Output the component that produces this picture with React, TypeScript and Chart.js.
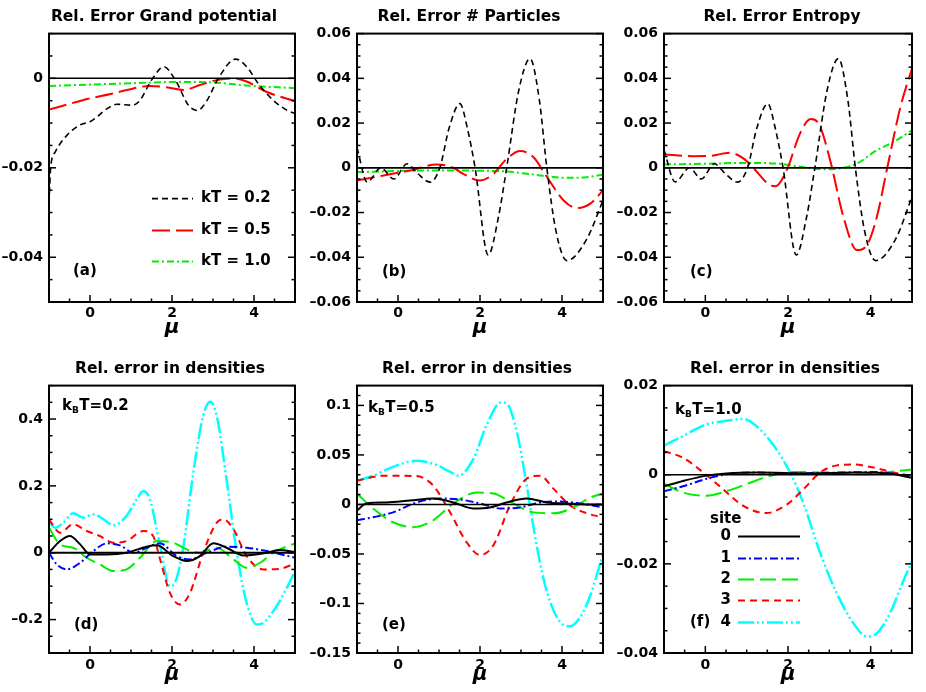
import React, { useEffect, useRef } from "react";
import { Chart, registerables } from "chart.js";

Chart.register(...registerables);

type Pt = [number, number];

// ---------------- shared axis data ----------------
const MU_MIN = -1;
const MU_MAX = 5;
const MU_TICK_LABELS = [0, 2, 4];
const ZERO_LINE: Pt[] = [[-1, 0], [5, 0]];

// ---------------- (a) Rel. Error Grand potential ----------------
const grandKT02: Pt[] = [[-1, -0.028], [-0.96, -0.02], [-0.85, -0.0165], [-0.57, -0.0128], [-0.24, -0.0104], [0, -0.0097], [0.45, -0.0066], [0.65, -0.0058], [1.05, -0.006], [1.22, -0.0049], [1.5, -0.0004], [1.8, 0.0026], [2.1, -0.0007], [2.4, -0.006], [2.62, -0.0072], [2.85, -0.005], [3.13, 0], [3.55, 0.0043], [3.82, 0.0026], [4.1, -0.0011], [4.47, -0.0049], [4.8, -0.0071], [5, -0.0079]];
const grandKT05: Pt[] = [[-1, -0.007], [-0.5, -0.0057], [0, -0.0045], [0.5, -0.0035], [0.9, -0.0026], [1.46, -0.0017], [1.87, -0.002], [2.28, -0.0026], [2.68, -0.0015], [3.09, -0.0004], [3.5, 0], [3.82, -0.0007], [4.3, -0.003], [5, -0.0051]];
const grandKT10: Pt[] = [[-1, -0.0017], [1, -0.0011], [2.2, -0.0008], [3, -0.0009], [3.8, -0.0016], [5, -0.0022]];

// ---------------- (b) Rel. Error # Particles ----------------
const partKT02: Pt[] = [[-1, 0.009], [-0.75, -0.0064], [-0.42, 0], [-0.1, -0.005], [0.22, 0.0018], [0.45, -0.002], [0.78, -0.0064], [1.02, 0], [1.25, 0.018], [1.51, 0.0287], [1.7, 0.017], [1.88, 0], [2.2, -0.039], [2.45, -0.022], [2.65, 0], [2.95, 0.035], [3.22, 0.0488], [3.45, 0.03], [3.63, 0], [3.85, -0.028], [4.12, -0.0415], [4.6, -0.032], [5, -0.0146]];
const partKT05: Pt[] = [[-1, -0.0057], [-0.35, -0.0034], [0.3, -0.0012], [0.94, 0.0015], [1.35, 0], [1.59, -0.0027], [2, -0.0057], [2.33, -0.0027], [2.65, 0.004], [2.98, 0.0075], [3.3, 0.0048], [3.63, -0.004], [4.04, -0.0146], [4.36, -0.018], [4.69, -0.016], [5, -0.0101]];
const partKT10: Pt[] = [[-1, -0.0019], [0.8, -0.0012], [2.5, -0.0015], [3.3, -0.003], [4.1, -0.0045], [4.6, -0.0042], [5, -0.003]];

// ---------------- (c) Rel. Error Entropy ----------------
const entKT02: Pt[] = [[-1, 0.008], [-0.73, -0.0063], [-0.38, 0], [-0.1, -0.005], [0.22, 0.0018], [0.45, -0.002], [0.78, -0.0064], [1.02, 0], [1.25, 0.018], [1.51, 0.0287], [1.7, 0.017], [1.88, 0], [2.2, -0.039], [2.45, -0.022], [2.65, 0], [2.95, 0.035], [3.22, 0.0488], [3.45, 0.03], [3.63, 0], [3.85, -0.028], [4.12, -0.0415], [4.6, -0.032], [5, -0.013]];
const entKT05: Pt[] = [[-1, 0.006], [-0.3, 0.0052], [0.1, 0.0053], [0.59, 0.0067], [0.92, 0.0042], [1.16, 0], [1.56, -0.0077], [1.7, -0.0082], [1.97, -0.001], [2.29, 0.0153], [2.55, 0.0218], [2.74, 0.0198], [3.02, 0.0034], [3.34, -0.0219], [3.67, -0.0368], [3.91, -0.0345], [4.15, -0.0219], [4.39, -0.001], [4.72, 0.0272], [5, 0.0444]];
const entKT10: Pt[] = [[-1, 0.0015], [0, 0.0018], [1, 0.0022], [1.72, 0.0019], [2.37, 0.0003], [2.94, -0.0007], [3.34, 0], [3.67, 0.0019], [4.15, 0.0079], [4.56, 0.0116], [5, 0.0168]];

// ---------------- (d) densities, kBT = 0.2 ----------------
const dens02Site0: Pt[] = [[-1, 0], [-0.73, 0.035], [-0.49, 0.05], [-0.24, 0.025], [0, -0.005], [0.41, -0.005], [0.89, 0], [1.38, 0.018], [1.63, 0.022], [2.03, -0.01], [2.36, -0.025], [2.68, -0.01], [3.01, 0.028], [3.33, 0.015], [3.74, -0.008], [4.31, 0], [4.63, 0.008], [5, 0.002]];
const dens02Site1: Pt[] = [[-1, 0], [-0.81, -0.035], [-0.57, -0.05], [-0.24, -0.03], [0.08, 0.005], [0.41, 0.028], [0.73, 0.022], [1.06, 0], [1.38, 0.015], [1.71, 0.028], [2.11, -0.01], [2.44, -0.02], [2.85, 0], [3.33, 0.018], [3.82, 0.015], [4.31, 0.005], [5, -0.015]];
const dens02Site2: Pt[] = [[-1, 0.075], [-0.73, 0.025], [-0.41, 0.015], [-0.08, -0.015], [0.24, -0.035], [0.57, -0.055], [0.89, -0.05], [1.22, -0.015], [1.63, 0.035], [2.03, 0.03], [2.36, 0.01], [2.68, 0], [3.09, 0.015], [3.5, -0.02], [3.82, -0.045], [4.15, -0.03], [4.47, 0], [5, 0.028]];
const dens02Site3: Pt[] = [[-1, 0.1], [-0.73, 0.06], [-0.41, 0.085], [-0.08, 0.065], [0.24, 0.05], [0.57, 0.03], [0.89, 0.035], [1.3, 0.065], [1.54, 0.05], [1.71, -0.02], [1.95, -0.12], [2.2, -0.155], [2.44, -0.12], [2.76, 0], [3.09, 0.09], [3.25, 0.1], [3.5, 0.07], [3.82, -0.01], [4.23, -0.05], [4.63, -0.048], [5, -0.032]];
const dens02Site4: Pt[] = [[-1, 0.092], [-0.85, 0.075], [-0.65, 0.09], [-0.41, 0.118], [-0.16, 0.105], [0.08, 0.115], [0.33, 0.1], [0.57, 0.082], [0.89, 0.11], [1.14, 0.16], [1.3, 0.185], [1.46, 0.16], [1.71, 0.02], [1.95, -0.1], [2.07, -0.09], [2.28, 0.02], [2.52, 0.24], [2.76, 0.41], [2.93, 0.452], [3.09, 0.41], [3.33, 0.22], [3.58, 0], [3.82, -0.15], [4.07, -0.215], [4.23, -0.21], [4.55, -0.16], [4.8, -0.105], [5, -0.055]];

// ---------------- (e) densities, kBT = 0.5 ----------------
const dens05Site0: Pt[] = [[-1, -0.006], [-0.77, 0.001], [-0.28, 0.002], [0.29, 0.004], [0.86, 0.006], [1.35, 0.002], [1.84, -0.004], [2.24, -0.003], [2.65, 0.002], [3.14, 0.006], [3.63, 0.002], [4.12, 0.001], [4.61, 0], [5, 0]];
const dens05Site1: Pt[] = [[-1, -0.016], [-0.61, -0.013], [-0.12, -0.008], [0.45, 0.002], [1.02, 0.006], [1.51, 0.005], [2, 0.001], [2.49, -0.004], [2.98, -0.003], [3.47, 0.002], [3.96, 0.003], [4.44, 0.001], [5, -0.003]];
const dens05Site2: Pt[] = [[-1, 0.011], [-0.61, -0.004], [-0.12, -0.018], [0.37, -0.023], [0.86, -0.016], [1.35, 0.001], [1.92, 0.012], [2.33, 0.011], [2.81, 0.001], [3.3, -0.008], [3.79, -0.009], [4.28, -0.003], [4.69, 0.007], [5, 0.011]];
const dens05Site3: Pt[] = [[-1, 0.024], [-0.36, 0.029], [0.45, 0.0286], [0.86, 0.019], [1.27, -0.008], [1.67, -0.038], [2, -0.051], [2.33, -0.041], [2.73, -0.001], [3.14, 0.026], [3.47, 0.029], [3.79, 0.016], [4.2, -0.001], [4.61, -0.009], [5, -0.013]];
const dens05Site4: Pt[] = [[-1, 0.024], [-0.61, 0.029], [-0.12, 0.038], [0.45, 0.044], [0.86, 0.041], [1.27, 0.033], [1.47, 0.029], [1.84, 0.046], [2.16, 0.08], [2.51, 0.103], [2.65, 0.102], [2.9, 0.073], [3.14, 0.019], [3.38, -0.041], [3.63, -0.088], [3.96, -0.119], [4.2, -0.123], [4.44, -0.114], [4.69, -0.092], [5, -0.05]];

// ---------------- (f) densities, kBT = 1.0 ----------------
const dens10Site0: Pt[] = [[-1, -0.0026], [-0.54, -0.0014], [0.03, -0.0002], [0.51, 0.0003], [1.3, 0.0005], [2.5, 0.0003], [3.7, 0.0005], [4.5, 0.0002], [5, -0.0007]];
const dens10Site1: Pt[] = [[-1, -0.0037], [-0.54, -0.0026], [0.03, -0.0009], [0.51, 0.0001], [1.1, 0.0005], [2.1, 0.0003], [3.3, 0.0005], [4.1, 0.0006], [5, -0.0003]];
const dens10Site2: Pt[] = [[-1, -0.002], [-0.54, -0.004], [0.03, -0.0047], [0.51, -0.0037], [1.08, -0.0018], [1.56, -0.0003], [2.13, 0.0006], [2.94, 0.0005], [3.75, 0.0001], [4.31, 0.0005], [5, 0.0012]];
const dens10Site3: Pt[] = [[-1, 0.0053], [-0.54, 0.0038], [-0.05, 0.0005], [0.35, -0.0026], [0.92, -0.007], [1.48, -0.0086], [1.97, -0.0067], [2.37, -0.0033], [2.78, 0.0005], [3.18, 0.0021], [3.58, 0.0023], [4.07, 0.0016], [4.56, 0.0005], [5, -0.0003]];
const dens10Site4: Pt[] = [[-1, 0.0065], [-0.54, 0.0087], [0.03, 0.0113], [0.51, 0.0121], [0.92, 0.0125], [1.32, 0.0102], [1.72, 0.0057], [2.05, 0.0005], [2.37, -0.0063], [2.78, -0.0176], [3.18, -0.0266], [3.58, -0.0333], [3.91, -0.0363], [4.15, -0.0356], [4.47, -0.031], [4.8, -0.0236], [5, -0.0194]];

// ---------------- labels ----------------
const KT_LEGEND = ["kT = 0.2", "kT = 0.5", "kT = 1.0"];
const SITE_LEGEND = ["0", "1", "2", "3", "4"];
const Y_LABELS_A = [-0.04, -0.02, 0];
const Y_LABELS_BC = [-0.06, -0.04, -0.02, 0, 0.02, 0.04, 0.06];
const Y_LABELS_D = [-0.2, 0, 0.2, 0.4];
const Y_LABELS_E = [-0.15, -0.1, -0.05, 0, 0.05, 0.1];
const Y_LABELS_F = [-0.04, -0.02, 0, 0.02];

// ---------------- styles ----------------
const FONT = "'DejaVu Sans', sans-serif";
type Sty = { color: string; dash: number[]; width: number };
const KT_STYLES: Sty[] = [
  { color: "#000000", dash: [6, 4], width: 1.6 },
  { color: "#ff0000", dash: [18, 6], width: 2 },
  { color: "#00ee00", dash: [7, 3, 2, 3], width: 2 },
];
const SITE_STYLES: Sty[] = [
  { color: "#000000", dash: [], width: 2 },
  { color: "#0000ff", dash: [8, 3, 2, 3], width: 2 },
  { color: "#00ee00", dash: [16, 6], width: 2 },
  { color: "#ff0000", dash: [7, 5], width: 2 },
  { color: "#00ffff", dash: [16, 3, 2, 3, 2, 3], width: 2.5 },
];

interface PanelDef {
  key: string;
  title: string;
  tag: string;
  kT?: string;
  canvas: { left: number; top: number; width: number; height: number };
  yAxisW: number;
  rightW: number;
  xAxisH: number;
  titlePad: { top: number; bottom: number };
  tickPadX: number;
  muPad: number;
  yMin: number;
  yMax: number;
  yLabels: number[];
  yMajor: number;
  yMinor: number;
  series: Pt[][];
  styles: Sty[];
  legend?: "kT" | "site";
  zeroW: number;
  tagPos: [number, number];
  kTPos?: [number, number];
}

const TOP = { height: 340, xAxisH: 38, titlePad: { top: 8, bottom: 7 }, tickPadX: 3, muPad: 0 };
const BOT = { height: 352, xAxisH: 39, titlePad: { top: 20, bottom: 7 }, tickPadX: 4, muPad: 5 };

const PANELS: PanelDef[] = [
  {
    key: "a", title: "Rel. Error Grand potential", tag: "(a)",
    canvas: { left: 0, top: 0, width: 328, height: TOP.height }, yAxisW: 49, rightW: 33,
    xAxisH: TOP.xAxisH, titlePad: TOP.titlePad, tickPadX: TOP.tickPadX, muPad: TOP.muPad,
    yMin: -0.05, yMax: 0.01, yLabels: Y_LABELS_A, yMajor: 0.02, yMinor: 0.005,
    series: [grandKT02, grandKT05, grandKT10], styles: KT_STYLES, legend: "kT", zeroW: 1.5, tagPos: [24, 238],
  },
  {
    key: "b", title: "Rel. Error # Particles", tag: "(b)",
    canvas: { left: 290, top: 0, width: 358, height: TOP.height }, yAxisW: 67, rightW: 45,
    xAxisH: TOP.xAxisH, titlePad: TOP.titlePad, tickPadX: TOP.tickPadX, muPad: TOP.muPad,
    yMin: -0.06, yMax: 0.06, yLabels: Y_LABELS_BC, yMajor: 0.02, yMinor: 0.005,
    series: [partKT02, partKT05, partKT10], styles: KT_STYLES, zeroW: 1.8, tagPos: [25, 239],
  },
  {
    key: "c", title: "Rel. Error Entropy", tag: "(c)",
    canvas: { left: 600, top: 0, width: 364, height: TOP.height }, yAxisW: 64, rightW: 52,
    xAxisH: TOP.xAxisH, titlePad: TOP.titlePad, tickPadX: TOP.tickPadX, muPad: TOP.muPad,
    yMin: -0.06, yMax: 0.06, yLabels: Y_LABELS_BC, yMajor: 0.02, yMinor: 0.005,
    series: [entKT02, entKT05, entKT10], styles: KT_STYLES, zeroW: 1.8, tagPos: [26, 239],
  },
  {
    key: "d", title: "Rel. error in densities", tag: "(d)", kT: "0.2",
    canvas: { left: 0, top: 340, width: 340, height: BOT.height }, yAxisW: 49, rightW: 45,
    xAxisH: BOT.xAxisH, titlePad: BOT.titlePad, tickPadX: BOT.tickPadX, muPad: BOT.muPad,
    yMin: -0.3, yMax: 0.5, yLabels: Y_LABELS_D, yMajor: 0.2, yMinor: 0.05,
    series: [dens02Site0, dens02Site1, dens02Site2, dens02Site3, dens02Site4], styles: SITE_STYLES,
    zeroW: 2.2, tagPos: [25, 240], kTPos: [13, 21],
  },
  {
    key: "e", title: "Rel. error in densities", tag: "(e)", kT: "0.5",
    canvas: { left: 290, top: 340, width: 374, height: BOT.height }, yAxisW: 67, rightW: 61,
    xAxisH: BOT.xAxisH, titlePad: BOT.titlePad, tickPadX: BOT.tickPadX, muPad: BOT.muPad,
    yMin: -0.15, yMax: 0.12, yLabels: Y_LABELS_E, yMajor: 0.05, yMinor: 0.01,
    series: [dens05Site0, dens05Site1, dens05Site2, dens05Site3, dens05Site4], styles: SITE_STYLES,
    zeroW: 1.5, tagPos: [25, 240], kTPos: [11, 23],
  },
  {
    key: "f", title: "Rel. error in densities", tag: "(f)", kT: "1.0",
    canvas: { left: 600, top: 340, width: 370, height: BOT.height }, yAxisW: 64, rightW: 58,
    xAxisH: BOT.xAxisH, titlePad: BOT.titlePad, tickPadX: BOT.tickPadX, muPad: BOT.muPad,
    yMin: -0.04, yMax: 0.02, yLabels: Y_LABELS_F, yMajor: 0.02, yMinor: 0.005,
    series: [dens10Site0, dens10Site1, dens10Site2, dens10Site3, dens10Site4], styles: SITE_STYLES,
    legend: "site", zeroW: 1.5, tagPos: [26, 237], kTPos: [11, 25],
  },
];

function fmt(v: number): string {
  if (Math.abs(v) < 1e-12) return "0";
  const s = parseFloat(Math.abs(v).toFixed(4)).toString();
  return (v < 0 ? "\u2013" : "") + s;
}

function tickSet(min: number, max: number, minor: number, major: number) {
  const out: { v: number; major: boolean }[] = [];
  const k0 = Math.ceil(min / minor - 1e-6);
  const k1 = Math.floor(max / minor + 1e-6);
  for (let k = k0; k <= k1; k++) {
    const v = k * minor;
    const r = v / major;
    out.push({ v, major: Math.abs(r - Math.round(r)) < 1e-6 });
  }
  return out;
}

function makeDecor(p: PanelDef) {
  return {
    id: "decor_" + p.key,
    afterDatasetsDraw(chart: any) {
      const ctx: CanvasRenderingContext2D = chart.ctx;
      const a = chart.chartArea;
      const xs = chart.scales.x;
      const ys = chart.scales.y;
      ctx.save();
      ctx.strokeStyle = "#000";
      ctx.setLineDash([]);
      ctx.lineWidth = 1.5;
      const seg = (x1: number, y1: number, x2: number, y2: number) => {
        ctx.beginPath();
        ctx.moveTo(x1, y1);
        ctx.lineTo(x2, y2);
        ctx.stroke();
      };
      for (const t of tickSet(p.yMin, p.yMax, p.yMinor, p.yMajor)) {
        const py = ys.getPixelForValue(t.v);
        const len = t.major ? 7 : 3.5;
        seg(a.left, py, a.left + len, py);
        seg(a.right, py, a.right - len, py);
      }
      for (const t of tickSet(MU_MIN, MU_MAX, 0.5, 2)) {
        const px = xs.getPixelForValue(t.v);
        const len = t.major ? 7 : 3.5;
        seg(px, a.bottom, px, a.bottom - len);
      }
      ctx.lineWidth = 2;
      ctx.strokeRect(a.left, a.top, a.right - a.left, a.bottom - a.top);

      ctx.fillStyle = "#000";
      ctx.textBaseline = "middle";
      ctx.textAlign = "left";
      const big = `bold 15px ${FONT}`;
      ctx.font = big;
      ctx.fillText(p.tag, a.left + p.tagPos[0], a.top + p.tagPos[1]);

      if (p.kT && p.kTPos) {
        const x0 = a.left + p.kTPos[0];
        const y0 = a.top + p.kTPos[1];
        ctx.font = big;
        ctx.fillText("k", x0, y0);
        const w1 = ctx.measureText("k").width;
        ctx.font = `bold 9px ${FONT}`;
        ctx.fillText("B", x0 + w1, y0 + 4);
        const w2 = ctx.measureText("B").width;
        ctx.font = big;
        ctx.fillText("T=" + p.kT, x0 + w1 + w2 + 0.5, y0);
      }

      const sample = (s: Sty, x1: number, x2: number, y: number) => {
        ctx.save();
        ctx.strokeStyle = s.color;
        ctx.lineWidth = s.width;
        ctx.setLineDash(s.dash);
        seg(x1, y, x2, y);
        ctx.restore();
      };

      if (p.legend === "kT") {
        const rows = [165, 197, 228];
        KT_LEGEND.forEach((lab, i) => {
          const y = a.top + rows[i];
          sample(p.styles[i], a.left + 103, a.left + 144, y);
          ctx.font = big;
          ctx.textAlign = "left";
          ctx.fillText(lab, a.left + 152, y);
        });
      }
      if (p.legend === "site") {
        ctx.font = big;
        ctx.textAlign = "left";
        ctx.fillText("site", a.left + 46, a.top + 134);
        const rows = [151, 173, 194, 215, 237];
        SITE_LEGEND.forEach((lab, i) => {
          const y = a.top + rows[i];
          ctx.font = big;
          ctx.textAlign = "right";
          ctx.fillText(lab, a.left + 67, y);
          sample(p.styles[i], a.left + 74, a.left + 136, y);
        });
      }
      ctx.restore();
    },
  };
}

function buildConfig(p: PanelDef): any {
  const toXY = (d: Pt[]) => d.map(([x, y]) => ({ x, y }));
  const tickFont = { family: FONT, size: 14, weight: "bold" as const };
  return {
    type: "line",
    data: {
      datasets: [
        {
          label: "zero",
          data: toXY(ZERO_LINE),
          borderColor: "#000",
          borderWidth: p.zeroW,
          pointRadius: 0,
          tension: 0,
          fill: false,
        },
        ...p.series.map((d, i) => ({
          label: p.styles === SITE_STYLES ? "site " + SITE_LEGEND[i] : KT_LEGEND[i],
          data: toXY(d),
          borderColor: p.styles[i].color,
          borderDash: p.styles[i].dash,
          borderWidth: p.styles[i].width,
          pointRadius: 0,
          fill: false,
          cubicInterpolationMode: "monotone",
        })),
      ],
    },
    options: {
      responsive: false,
      maintainAspectRatio: false,
      animation: false,
      events: [],
      layout: { padding: 0 },
      plugins: {
        legend: { display: false },
        tooltip: { enabled: false },
        title: {
          display: true,
          text: p.title,
          color: "#000",
          font: { family: FONT, size: 15.5, weight: "bold" },
          padding: { top: p.titlePad.top, bottom: p.titlePad.bottom },
        },
      },
      scales: {
        x: {
          type: "linear",
          min: MU_MIN,
          max: MU_MAX,
          grid: { display: false, drawTicks: false },
          border: { display: false },
          afterBuildTicks: (s: any) => {
            s.ticks = MU_TICK_LABELS.map((v) => ({ value: v }));
          },
          afterFit: (s: any) => {
            s.height = p.xAxisH;
          },
          ticks: {
            color: "#000",
            font: tickFont,
            padding: p.tickPadX,
            maxRotation: 0,
            autoSkip: false,
            callback: (v: any) => fmt(Number(v)),
          },
          title: {
            display: true,
            text: "\u03bc",
            color: "#000",
            font: { family: FONT, size: 20, weight: "bold", style: "italic" },
            padding: { top: 0, bottom: p.muPad },
          },
        },
        y: {
          type: "linear",
          min: p.yMin,
          max: p.yMax,
          grid: { display: false, drawTicks: false },
          border: { display: false },
          afterBuildTicks: (s: any) => {
            s.ticks = p.yLabels.map((v) => ({ value: v }));
          },
          afterFit: (s: any) => {
            s.width = p.yAxisW;
          },
          ticks: {
            color: "#000",
            font: tickFont,
            padding: 6,
            autoSkip: false,
            callback: (v: any) => fmt(Number(v)),
          },
        },
        yRight: {
          type: "linear",
          position: "right",
          min: p.yMin,
          max: p.yMax,
          grid: { display: false, drawTicks: false },
          border: { display: false },
          ticks: { display: false },
          afterFit: (s: any) => {
            s.width = p.rightW;
          },
        },
      },
    },
    plugins: [makeDecor(p)],
  };
}

function Panel({ p }: { p: PanelDef }) {
  const ref = useRef<HTMLCanvasElement>(null);
  useEffect(() => {
    if (!ref.current) return;
    const chart = new Chart(ref.current, buildConfig(p));
    return () => chart.destroy();
  }, [p]);
  return (
    <canvas
      ref={ref}
      width={p.canvas.width}
      height={p.canvas.height}
      style={{
        position: "absolute",
        left: p.canvas.left,
        top: p.canvas.top,
        width: p.canvas.width,
        height: p.canvas.height,
      }}
    />
  );
}

export default function App() {
  return (
    <div
      style={{
        position: "absolute",
        left: 0,
        top: 0,
        width: 926,
        height: 692,
        overflow: "hidden",
        background: "#ffffff",
      }}
    >
      {PANELS.map((p) => (
        <Panel key={p.key} p={p} />
      ))}
    </div>
  );
}
